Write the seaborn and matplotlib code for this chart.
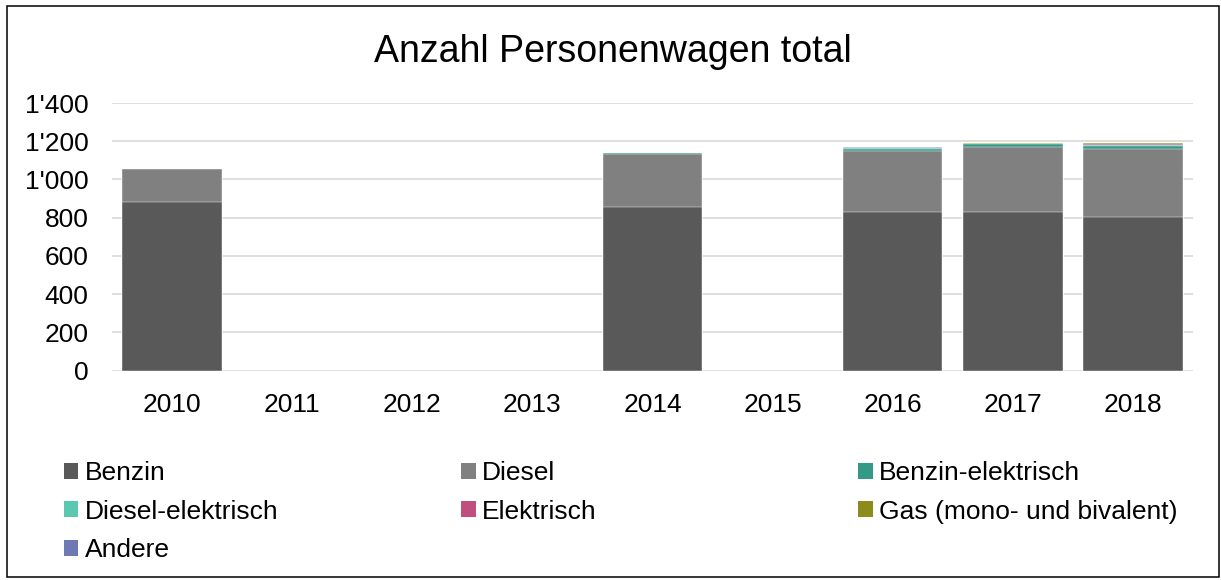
import numpy as np
import pandas as pd
import matplotlib
matplotlib.use("Agg")
import matplotlib.pyplot as plt
import seaborn as sns
from matplotlib.patches import Patch, Rectangle
from matplotlib.ticker import FuncFormatter

# Achse: alle Jahre, Daten nur fuer einzelne Jahre vorhanden
alle_jahre = ["2010", "2011", "2012", "2013", "2014", "2015", "2016", "2017", "2018"]
jahre = ["2010", "2014", "2016", "2017", "2018"]

benzin = [884, 855, 828, 828, 802]
diesel = [169, 276, 322, 341, 358]
benzin_el = [0, 10, 11, 14, 16]
diesel_el = [0, 0, 2, 2, 3]
elektrisch = [0, 0, 1, 3, 8]
gas = [0, 0, 3, 3, 3]
andere = [0, 0, 1, 1, 1]

serien = ["Benzin", "Diesel", "Benzin-elektrisch", "Diesel-elektrisch",
          "Elektrisch", "Gas (mono- und bivalent)", "Andere"]
farben = ["#595959", "#808080", "#339a87", "#5cc8b0",
          "#c04f80", "#8c8c1c", "#6f7ab5"]
y_ticks = [0, 200, 400, 600, 800, 1000, 1200, 1400]

df = pd.DataFrame({
    "Jahr": jahre,
    serien[0]: benzin,
    serien[1]: diesel,
    serien[2]: benzin_el,
    serien[3]: diesel_el,
    serien[4]: elektrisch,
    serien[5]: gas,
    serien[6]: andere,
})

# kumulierte Summen -> gestapelte Balken durch Ueberlagern
cum = df[serien].cumsum(axis=1)
cum["Jahr"] = df["Jahr"]

sns.set_theme(style="white")
plt.rcParams["font.family"] = ["Liberation Sans", "DejaVu Sans"]
plt.rcParams["text.color"] = "black"

fig = plt.figure(figsize=(12.21, 5.8), dpi=100)
ax = fig.add_axes([0.0917, 0.3609, 0.8853, 0.4615])

for name, farbe in reversed(list(zip(serien, farben))):
    sns.barplot(data=cum, x="Jahr", y=name, order=alle_jahre, color=farbe,
                saturation=1, width=0.83, edgecolor="white", linewidth=0.3,
                errorbar=None, ax=ax)

ax.set_xlim(-0.5, len(alle_jahre) - 0.5)
ax.set_ylim(0, 1400)
ax.set_yticks(y_ticks)
ax.yaxis.set_major_formatter(FuncFormatter(lambda v, p: f"{int(v):,}".replace(",", "'")))
ax.set_xlabel("")
ax.set_ylabel("")
ax.set_axisbelow(True)
ax.grid(axis="y", color="#d9d9d9", linewidth=1.2)
ax.grid(axis="x", visible=False)
sns.despine(ax=ax, left=True, bottom=True)
ax.tick_params(axis="y", length=0, labelsize=19, pad=17, colors="black")
ax.tick_params(axis="x", length=0, labelsize=19, pad=16, colors="black")

fig.text(0.502, 0.91, "Anzahl Personenwagen total", ha="center", va="center",
         fontsize=27, color="black")

# Legende in drei Spalten wie in Excel
spalten = [[0, 3, 6], [1, 4], [2, 5]]
spalten_x = [0.0524, 0.3776, 0.7027]
for idx, x in zip(spalten, spalten_x):
    handles = [Patch(facecolor=farben[i], edgecolor="none") for i in idx]
    labels = [serien[i] for i in idx]
    fig.legend(handles, labels, loc="upper left", bbox_to_anchor=(x, 0.205),
               frameon=False, fontsize=19, handlelength=0.55, handleheight=0.55,
               handletextpad=0.25, labelspacing=0.55, borderpad=0, borderaxespad=0)

fig.patches.append(Rectangle((0.0057, 0.0052), 0.9927, 0.9836, transform=fig.transFigure,
                             fill=False, edgecolor="black", linewidth=1.1))

fig.savefig("out.png", dpi=100)
